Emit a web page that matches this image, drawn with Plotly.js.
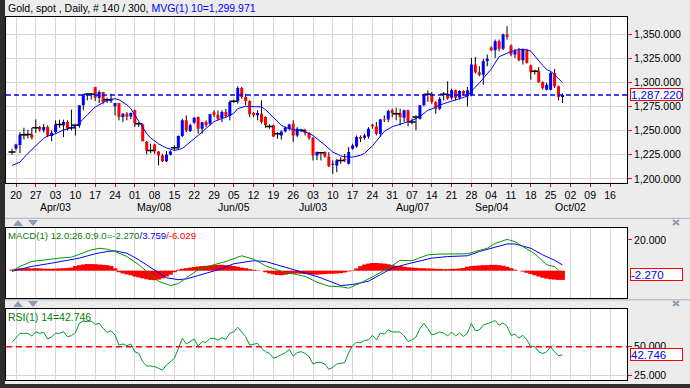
<!DOCTYPE html>
<html><head><meta charset="utf-8">
<script src="https://cdn.plot.ly/plotly-3.0.1.min.js"></script>
<style>
html,body{margin:0;padding:0;background:#ECECEC;overflow:hidden;}
#chart{width:690px;height:388px;position:absolute;left:0;top:0;}
.edge{position:absolute;background:#2E2E2E;}
</style></head><body>
<div id="chart"></div>
<div class="edge" style="left:0;top:0;width:5px;height:388px"></div>
<div class="edge" style="left:0;top:384px;width:690px;height:4px"></div>
<script>
// ---- Daily OHLC, Gold spot, 140 bars (17 Mar .. 28 Sep), x = bar number ----
const open = [1228.0,1231.6,1235.1,1245.8,1246.0,1246.2,1253.1,1253.8,1250.4,1253.8,
1244.4,1248.6,1256.6,1255.6,1259.0,1253.1,1255.6,1255.6,1276.4,1287.8,
1287.8,1295.5,1284.4,1290.3,1282.3,1280.6,1275.4,1278.8,1264.2,1267.7,
1264.9,1271.2,1257.3,1256.6,1238.5,1229.5,1235.8,1228.5,1224.3,1218.4,
1225.0,1232.3,1232.3,1244.4,1260.8,1249.7,1258.3,1264.2,1252.1,1259.0,
1257.3,1269.1,1266.7,1263.2,1269.4,1265.3,1280.6,1280.6,1294.5,1285.1,
1280.9,1268.4,1266.0,1267.7,1264.2,1254.5,1255.6,1246.9,1245.1,1249.3,
1252.1,1257.3,1245.1,1250.4,1250.4,1247.6,1242.7,1224.3,1227.1,1227.8,
1223.3,1214.6,1213.9,1219.1,1220.8,1215.6,1231.3,1233.7,1243.4,1242.7,
1244.1,1256.3,1254.5,1246.9,1261.8,1261.8,1271.2,1267.7,1268.4,1263.5,
1271.2,1259.0,1264.2,1262.5,1276.4,1287.8,1288.5,1279.9,1272.9,1287.8,
1288.5,1284.4,1292.0,1284.4,1291.3,1285.8,1287.5,1318.8,1310.8,1308.3,
1322.2,1336.5,1333.7,1343.1,1335.1,1350.0,1338.5,1329.2,1333.7,1323.3,
1333.7,1317.7,1311.8,1311.8,1300.3,1292.7,1292.7,1310.1,1296.2,1285.1];
const high = [1231.3,1236.5,1248.6,1253.1,1251.0,1253.0,1261.8,1255.0,1257.0,1255.6,
1250.4,1260.8,1261.5,1261.5,1260.8,1271.9,1257.3,1276.4,1287.8,1289.2,
1289.2,1295.5,1292.0,1290.3,1284.4,1288.5,1278.8,1278.8,1268.4,1269.4,
1269.0,1271.9,1259.0,1257.3,1239.2,1236.5,1236.5,1228.8,1226.0,1228.8,
1229.5,1234.7,1245.1,1262.5,1266.0,1257.3,1264.2,1264.9,1259.0,1260.8,
1267.7,1271.2,1271.2,1271.2,1272.6,1281.6,1282.3,1296.2,1295.5,1288.5,
1281.6,1269.4,1271.2,1281.6,1264.9,1256.6,1256.3,1248.6,1250.4,1254.5,
1257.3,1260.8,1253.8,1252.1,1252.1,1248.6,1243.4,1228.5,1227.8,1228.5,
1227.8,1219.1,1220.8,1222.6,1226.0,1233.0,1236.5,1245.1,1245.1,1246.9,
1253.8,1257.3,1259.0,1262.5,1266.0,1271.9,1272.9,1274.0,1272.9,1271.9,
1271.9,1262.5,1266.0,1276.4,1288.5,1292.0,1290.3,1280.6,1285.1,1290.3,
1301.4,1293.8,1292.7,1292.0,1292.0,1295.5,1325.7,1326.7,1317.0,1324.7,
1329.2,1337.8,1344.8,1344.8,1351.0,1358.7,1339.6,1335.1,1336.1,1335.1,
1335.1,1318.8,1313.5,1316.3,1301.4,1299.7,1311.8,1314.2,1296.9,1288.8];
const low = [1225.0,1229.5,1226.7,1241.0,1242.0,1241.0,1247.6,1249.0,1248.3,1243.4,
1239.2,1246.9,1253.1,1243.4,1250.4,1250.4,1245.1,1253.1,1271.2,1281.6,
1282.3,1280.9,1278.8,1278.1,1278.8,1278.8,1266.0,1260.8,1259.0,1260.8,
1262.0,1253.8,1253.8,1239.2,1225.4,1226.7,1226.0,1213.9,1217.4,1217.4,
1224.3,1229.5,1231.3,1243.4,1248.6,1248.6,1257.3,1246.9,1246.9,1253.8,
1255.6,1264.2,1260.8,1259.0,1264.2,1260.8,1278.8,1278.1,1283.3,1276.4,
1264.2,1264.2,1260.8,1257.3,1253.1,1252.1,1243.4,1241.7,1240.7,1248.3,
1250.4,1238.2,1243.4,1248.6,1245.1,1240.7,1219.1,1219.5,1219.1,1221.9,
1212.2,1205.2,1206.9,1215.6,1217.4,1214.9,1230.2,1232.3,1238.2,1240.7,
1241.7,1252.1,1245.1,1243.4,1259.0,1259.0,1264.2,1260.8,1255.6,1259.0,
1254.5,1256.6,1250.4,1261.5,1275.4,1279.9,1278.1,1267.7,1271.2,1281.6,
1282.3,1282.3,1281.6,1282.3,1286.8,1275.4,1285.8,1309.4,1306.6,1297.9,
1317.0,1332.6,1325.7,1332.6,1333.7,1344.8,1327.4,1325.7,1322.2,1318.8,
1319.8,1303.1,1308.3,1299.7,1292.7,1292.0,1292.0,1294.4,1281.6,1278.8];
const close = [1228.0,1235.8,1246.2,1245.8,1246.0,1242.7,1253.1,1251.4,1253.8,1245.1,
1247.9,1256.6,1256.6,1259.0,1252.1,1253.1,1255.6,1276.4,1287.8,1287.8,
1287.8,1284.4,1290.3,1279.9,1282.3,1283.3,1278.8,1264.2,1267.7,1264.9,
1268.4,1258.0,1257.3,1239.2,1229.5,1229.5,1228.8,1224.3,1218.4,1225.0,
1228.5,1232.3,1244.4,1260.8,1250.4,1255.6,1263.5,1252.1,1258.7,1255.6,
1267.1,1266.7,1262.5,1269.4,1265.3,1279.9,1280.6,1294.5,1285.1,1280.9,
1267.1,1266.0,1268.4,1259.0,1255.6,1254.5,1244.1,1246.9,1249.3,1253.1,
1256.6,1245.1,1252.1,1250.4,1247.6,1242.4,1224.3,1227.8,1227.1,1223.3,
1213.2,1215.6,1219.1,1219.1,1219.1,1227.8,1234.7,1243.4,1241.7,1245.1,
1252.1,1254.5,1246.9,1261.8,1260.8,1270.5,1268.4,1267.7,1264.2,1271.2,
1259.0,1259.0,1264.2,1276.4,1287.8,1287.8,1279.9,1272.9,1283.3,1287.8,
1283.3,1292.0,1284.4,1291.3,1288.5,1292.0,1318.8,1310.8,1308.3,1322.2,
1324.7,1333.7,1343.1,1335.1,1350.0,1347.6,1329.2,1332.6,1323.3,1335.1,
1320.5,1310.8,1311.8,1300.3,1294.4,1297.9,1310.1,1296.2,1285.1,1287.22];

// ---- 10-period moving average ----
const maBar = [0,2,4,6,8,9,11,13,14,16,17,19,20,21,23,24,26,27,29,30,32,34,35,37,39,40,41,43,44,46,48,49,51,53,54,56,57,59,61,63,64,66,68,69,71,73,74,76,78,79,81,83,84,86,88,89,91,93,94,96,98,99,101,103,105,106,108,110,111,113,115,116,118,120,121,123,125,126,128,130,131,132,134,135,136,137,138,139];
const maVal = [1213.9,1217.4,1226.5,1234.7,1242.2,1244.5,1246.9,1250.8,1251.7,1254.5,1258.0,1266.5,1271.0,1274.7,1279.2,1281.5,1283.3,1282.3,1277.0,1273.0,1260.0,1247.0,1242.5,1236.3,1232.2,1230.5,1229.5,1231.5,1234.8,1241.4,1248.5,1252.4,1259.4,1262.8,1263.8,1268.2,1273.0,1275.4,1275.4,1274.7,1271.9,1264.2,1255.6,1253.6,1251.0,1250.0,1248.9,1245.1,1238.8,1235.1,1227.8,1223.9,1223.0,1222.6,1224.5,1226.5,1234.3,1244.3,1249.2,1254.2,1256.9,1258.3,1260.6,1264.6,1271.3,1272.6,1276.6,1279.5,1281.0,1283.3,1286.0,1291.0,1299.7,1308.7,1314.0,1327.0,1331.1,1332.3,1334.4,1334.2,1332.6,1327.4,1318.0,1313.5,1311.8,1308.3,1304.6,1299.971];

// ---- MACD(12,26,9) ----
const macdBar = [0,2,5,9,12,15,18,20,22,24,26,29,32,35,37,40,42,44,47,51,54,57,58,61,64,68,71,74,77,80,83,85,88,91,95,98,101,105,108,111,115,117,120,122,125,127,129,132,135,137,138,139];
const macdVal = [-0.4,2.8,6,7.5,8.2,8.8,11.8,13.5,14.6,14,12.5,9.2,3.9,-2.6,-6.9,-9.7,-8.4,-4.7,0.6,3.9,6,8.8,9.7,7.5,3.2,-0.4,-1.9,-3.7,-7.5,-10.1,-10.5,-11.4,-8,-4.1,1.7,6.7,6.5,10.3,10.8,10.8,11,12.5,14.6,17.8,20.4,18.9,15.7,11,3.9,2.6,0.3,-2.27];
const sigBar = [0,5,10,14,17,21,24,26,29,32,36,39,42,44,47,52,56,61,64,68,71,74,78,81,83,86,90,93,96,100,103,106,110,115,118,122,125,127,131,134,137,139];
const sigVal = [-0.4,2.8,4.9,6.7,8.2,11,12.5,12.9,11.4,7.1,0.6,-4.7,-5.8,-5.4,-3.2,0.6,4.5,6.5,6,3.2,0.6,-1.5,-4.7,-8,-9.7,-9,-6.9,-2.6,1.7,4.5,6.5,8.2,9.2,9.7,12.5,15.1,17.4,17.4,14.6,10.3,6.8,3.759];
const histVal = [0.8,1.2,1.5,1.5,1.6,1.5,1.6,1.5,1.3,1.2,1.2,1.3,1.5,1.6,1.8,2.0,
3.0,3.6,4.0,4.3,4.3,4.2,4.0,3.8,3.6,3.0,1.5,-1.0,-1.8,-2.4,-3.0,
-3.8,-4.4,-5.0,-5.6,-6.0,-6.2,-5.8,-5.0,-3.8,-2.6,-1.0,
0.6,1.2,1.6,2.0,2.4,2.8,3.0,3.2,3.4,3.6,3.8,3.8,3.6,3.4,
3.0,2.6,2.0,1.6,1.0,0.6,0.3,0,
-1.0,-1.8,-2.4,-2.8,-3.0,-2.6,-2.2,-2.0,-1.8,-2.0,-2.2,-2.4,-2.6,-2.6,-2.4,-2.2,-2.0,-2.0,-1.8,-1.6,-1.2,
-0.5,0.3,1.5,3.0,4.0,4.6,5.0,5.0,4.8,4.6,4.2,3.6,3.2,3.0,2.6,
2.2,2.0,1.8,1.6,1.6,1.4,1.4,1.2,1.2,1.0,1.0,1.2,1.2,1.4,1.8,
2.6,3.0,3.2,3.4,3.6,3.6,3.8,3.8,3.6,3.2,2.6,1.6,0.6,0,-0.6,
-1.4,-2.2,-3.0,-3.8,-4.6,-5.2,-5.6,-5.8,-6.0,-6.029];

// ---- RSI(14) ----
const rsiVal = [53.8,57.8,61.8,61.8,61.8,59.4,63.2,61.8,62.6,56.8,
58.8,61.8,61.8,63.2,58.8,59.7,62.4,70.6,72.6,72.1,
72.6,69.7,70.6,66.2,62.6,64.1,60.3,51.5,52.4,50.9,
52.4,45.6,44.1,36.8,32.9,32.9,32.4,30.9,29.4,33.8,
36.8,39.7,48.5,57.4,52.4,54.4,56.8,50.6,54.4,53.8,
57.4,57.4,55.9,57.9,56.5,61.8,63.2,67.1,62.4,58.8,
51.5,52.4,52.9,48.5,45.6,44.1,39.7,41.2,42.6,44.7,
47.6,41.8,44.7,45.6,44.1,41.2,34.7,36.2,36.2,34.7,
30.0,31.8,34.7,35.5,36.0,44.5,51.0,54.0,53.5,55.5,
56.0,60.0,56.0,62.0,61.0,65.0,63.0,63.0,63.0,59.5,
54.5,56.0,58.5,66.0,70.5,66.0,60.5,61.5,63.0,62.0,
59.5,63.0,59.5,62.0,59.0,62.0,70.5,64.0,64.7,69.0,
70.5,71.5,73.0,69.0,71.0,68.0,60.0,61.0,57.5,60.0,
56.0,50.0,50.0,45.5,44.0,45.5,50.0,45.5,42.0,42.746];

// ---- axis labels ----
const weekTickBar = [1,6,11,16,21,26,31,36,41,46,51,56,61,66,71,76,81,86,91,96,101,106,111,116,121,126,131,136,141,146,151];
const weekTickText = ["20","27","03","10","17","24","01","08","15","22","29","05","12","19","26","03","10","17","24","31","07","14","21","28","04","11","18","25","02","09","16"];
const monthBar = [11,36,56,76,101,121,141];
const monthText = ["Apr/03","May/08","Jun/05","Jul/03","Aug/07","Sep/04","Oct/02"];
const priceTicks = [1200,1225,1250,1275,1300,1325,1350];
const macdTicks = [20];
const rsiTicks = [25,50];
const maValueText = "1,299.971";
const macdText = ["-2.270","3.759","-6.029"];
const rsiText = "42.746";
const rsiMid = 50;

// ---- build traces ----
const n = close.length;
const bars = close.map((_, i) => i);
const wx = [], wy = [], ux = [], uy = [], dx = [], dy = [], zx = [], zy = [];
for (let i = 0; i < n; i++) {
  wx.push(i, i, null); wy.push(low[i], high[i], null);
  if (close[i] > open[i]) { ux.push(i, i, null); uy.push(open[i], close[i], null); }
  else if (close[i] < open[i]) { dx.push(i, i, null); dy.push(open[i], close[i], null); }
  else { zx.push(i); zy.push(close[i]); }
}
const last = close[n - 1];
const FONT = "Liberation Sans, Arial, sans-serif";
const FS = 10.5;

const traces = [
  {x: wx, y: wy, type: 'scatter', mode: 'lines', line: {color: '#000', width: 1}, xaxis: 'x', yaxis: 'y', hoverinfo: 'skip'},
  {x: ux, y: uy, type: 'scatter', mode: 'lines', line: {color: '#0000FF', width: 3}, xaxis: 'x', yaxis: 'y', hoverinfo: 'skip'},
  {x: dx, y: dy, type: 'scatter', mode: 'lines', line: {color: '#FF0000', width: 3}, xaxis: 'x', yaxis: 'y', hoverinfo: 'skip'},
  {x: zx, y: zy, type: 'scatter', mode: 'markers', marker: {symbol: 'line-ew', size: 5, line: {color: '#000', width: 1.5}}, xaxis: 'x', yaxis: 'y', hoverinfo: 'skip'},
  {x: maBar, y: maVal, type: 'scatter', mode: 'lines', line: {color: '#0000FF', width: 1}, xaxis: 'x', yaxis: 'y', hoverinfo: 'skip'},
  {x: bars, y: histVal, type: 'bar', width: 1.2, marker: {color: '#FF0000', line: {width: 0}}, xaxis: 'x2', yaxis: 'y2', hoverinfo: 'skip'},
  {x: sigBar, y: sigVal, type: 'scatter', mode: 'lines', line: {color: '#0000FF', width: 1}, xaxis: 'x2', yaxis: 'y2', hoverinfo: 'skip'},
  {x: macdBar, y: macdVal, type: 'scatter', mode: 'lines', line: {color: '#009900', width: 1}, xaxis: 'x2', yaxis: 'y2', hoverinfo: 'skip'},
  {x: bars, y: rsiVal, type: 'scatter', mode: 'lines', line: {color: '#009933', width: 1}, xaxis: 'x3', yaxis: 'y3', hoverinfo: 'skip'}
];

const W = 690, H = 388, ML = 6, MR = 63, MT = 17, MB = 8;
const PW = W - ML - MR, PH = H - MT - MB;
const px = v => (v - ML) / PW;          // pixel -> paper x
const py = v => (H - MB - v) / PH;      // pixel -> paper y
const XR = [-1.525, 155.29];

const xbase = {
  range: XR, tickvals: weekTickBar, showgrid: true, gridcolor: '#D6D6D6', gridwidth: 1,
  showline: true, mirror: true, linecolor: '#000', linewidth: 1, zeroline: false, fixedrange: true
};
const ybase = {
  side: 'right', showline: true, mirror: true, linecolor: '#000', linewidth: 1, zeroline: false,
  ticks: 'outside', ticklen: 4, tickcolor: '#FF0000', tickfont: {family: FONT, size: FS, color: '#000'},
  fixedrange: true
};

const ann = [];
ann.push({xref: 'paper', yref: 'paper', x: px(6), y: 1, xanchor: 'left', yanchor: 'bottom', yshift: 1, showarrow: false,
  text: 'Gold, spot , Daily, # ' + n + ' / 300, <span style="color:#0000FF">MVG(1) 10=' + maValueText + '</span>',
  font: {family: FONT, size: FS, color: '#000'}});
ann.push({xref: 'paper', yref: 'paper', x: px(6), y: py(227.7), xanchor: 'left', yanchor: 'top', showarrow: false,
  text: '<span style="color:#008000">MACD(1) 12.0;26.0;9.0=' + macdText[0] + '</span><span style="color:#0000FF">/' + macdText[1] + '</span><span style="color:#FF0000">/' + macdText[2] + '</span>',
  font: {family: FONT, size: 9.6}});
ann.push({xref: 'paper', yref: 'paper', x: px(6), y: py(309.3), xanchor: 'left', yanchor: 'top', showarrow: false,
  text: 'RSI(1) 14=' + rsiText, font: {family: FONT, size: FS, color: '#008000'}});
for (let k = 0; k < monthBar.length; k++) {
  ann.push({xref: 'x', yref: 'paper', x: monthBar[k], y: py(207.5), xanchor: 'center', yanchor: 'middle', showarrow: false,
    text: monthText[k], font: {family: FONT, size: FS, color: '#000'}});
}
const box = (yref, y, txt) => ({xref: 'paper', yref: yref, x: px(630), y: y, xanchor: 'left', yanchor: 'middle', showarrow: false,
  text: txt, align: 'left', width: 51, height: 11, borderpad: 0, bordercolor: '#FF0000', borderwidth: 1, bgcolor: '#FFFFFF',
  font: {family: FONT, size: FS + 1, color: '#0000FF'}});
ann.push(box('y', last, last.toLocaleString('en-US', {minimumFractionDigits: 3, maximumFractionDigits: 3})));
ann.push(box('y2', macdVal[macdVal.length - 1], macdText[0]));
ann.push(box('y3', rsiVal[rsiVal.length - 1], rsiText));

const shapes = [
  {type: 'line', xref: 'paper', yref: 'y', x0: 0, x1: 1, y0: last, y1: last, line: {color: '#0000FF', width: 1.5, dash: '5px,3px'}},
  {type: 'line', xref: 'paper', yref: 'y3', x0: 0, x1: 1, y0: rsiMid, y1: rsiMid, line: {color: '#FF0000', width: 1.5, dash: '6px,4px'}},
  {type: 'line', xref: 'paper', yref: 'paper', x0: px(0), x1: px(690), y0: py(218.3), y1: py(218.3), line: {color: '#B0B0B0', width: 1}},
  {type: 'line', xref: 'paper', yref: 'paper', x0: px(0), x1: px(690), y0: py(299.8), y1: py(299.8), line: {color: '#B0B0B0', width: 1}}
];
// panel strip icons (up / down arrows and close cross), drawn as small shapes
const ICON = '#8A9CB8';
const P = (a, b) => px(a) + ',' + py(b);
[220, 301].forEach(t => {
  shapes.push({type: 'path', xref: 'paper', yref: 'paper', path: 'M' + P(13, t + 6) + 'L' + P(18, t) + 'L' + P(23, t + 6) + 'Z',
    fillcolor: ICON, line: {width: 0}});
  shapes.push({type: 'path', xref: 'paper', yref: 'paper', path: 'M' + P(28, t) + 'L' + P(38, t) + 'L' + P(33, t + 6) + 'Z',
    fillcolor: ICON, line: {width: 0}});
  shapes.push({type: 'path', xref: 'paper', yref: 'paper', path: 'M' + P(673, t) + 'L' + P(679, t + 5) + 'M' + P(679, t) + 'L' + P(673, t + 5),
    line: {color: ICON, width: 2}});
});

const layout = {
  width: W, height: H, margin: {l: ML, r: MR, t: MT, b: MB, pad: 0},
  paper_bgcolor: '#ECECEC', plot_bgcolor: '#FFFFFF', showlegend: false, hovermode: false,
  barmode: 'overlay',
  font: {family: FONT, size: FS, color: '#000'},
  xaxis: Object.assign({}, xbase, {anchor: 'y', ticktext: weekTickText, ticks: 'outside', ticklen: 3, tickcolor: '#FF0000',
    tickfont: {family: FONT, size: FS, color: '#000'}, rangeslider: {visible: false}}),
  xaxis2: Object.assign({}, xbase, {anchor: 'y2', showticklabels: false, ticks: ''}),
  xaxis3: Object.assign({}, xbase, {anchor: 'y3', showticklabels: false, ticks: ''}),
  yaxis: Object.assign({}, ybase, {domain: [py(182.5), 1], range: [1196.2, 1368.2], tickvals: priceTicks, tickformat: ',.3f',
    showgrid: true, gridcolor: '#D6D6D6'}),
  yaxis2: Object.assign({}, ybase, {domain: [py(298), py(227.7)], range: [-17.8, 28], tickvals: macdTicks, tickformat: '.3f', showgrid: false}),
  yaxis3: Object.assign({}, ybase, {domain: [0, py(309.3)], range: [20.6, 83], tickvals: rsiTicks, tickformat: '.3f',
    showgrid: true, gridcolor: '#D6D6D6'}),
  annotations: ann, shapes: shapes
};

Plotly.newPlot('chart', traces, layout, {staticPlot: true, displayModeBar: false});
</script></body></html>
